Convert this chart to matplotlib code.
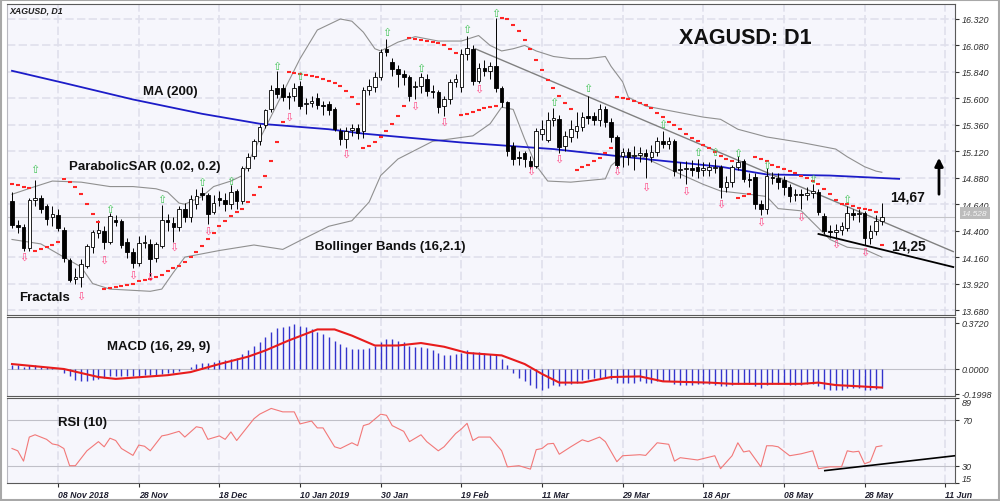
import matplotlib
matplotlib.use("Agg")
import matplotlib.pyplot as plt

plt.rcParams['font.family'] = ['Liberation Sans', 'DejaVu Sans']

# ---------------- data ----------------
opens = [14.67,14.45,14.43,14.24,14.68,14.70,14.62,14.52,14.54,14.41,
         14.13,13.96,13.98,14.08,14.25,14.38,14.40,14.30,14.50,14.49,
         14.30,14.21,14.11,14.29,14.28,14.15,14.26,14.50,14.47,14.43,
         14.60,14.52,14.64,14.74,14.72,14.57,14.70,14.68,14.64,14.76,
         14.67,14.97,15.08,15.21,15.36,15.50,15.69,15.69,15.62,15.62,
         15.71,15.55,15.56,15.60,15.54,15.55,15.50,15.30,15.23,15.31,
         15.33,15.30,15.68,15.70,15.79,16.05,15.93,15.87,15.82,15.79,
         15.70,15.71,15.78,15.67,15.66,15.53,15.59,15.75,15.70,16.00,
         16.05,15.76,15.88,15.85,15.89,15.69,15.57,15.17,15.07,15.10,
         15.03,14.99,15.28,15.22,15.40,15.41,15.17,15.25,15.30,15.34,
         15.44,15.44,15.40,15.50,15.39,15.25,15.08,15.11,15.08,15.09,
         15.10,15.07,15.11,15.21,15.19,15.21,14.95,14.96,14.97,14.98,
         14.95,14.95,14.97,14.98,14.80,14.84,14.98,15.03,14.87,14.89,
         14.64,14.60,14.89,14.88,14.86,14.80,14.72,14.73,14.72,14.74,
         14.75,14.53,14.40,14.39,14.41,14.42,14.56,14.55,14.56,14.33,
         14.40,14.49]
highs = [14.75,14.50,14.46,14.70,14.86,14.72,14.64,14.62,14.60,14.43,
         14.15,14.06,14.14,14.28,14.41,14.50,14.44,14.56,14.54,14.51,
         14.33,14.24,14.35,14.36,14.32,14.30,14.63,14.55,14.52,14.62,
         14.65,14.72,14.78,14.80,14.74,14.72,14.76,14.74,14.81,14.78,
         14.99,15.10,15.23,15.37,15.50,15.72,15.85,15.73,15.66,15.74,
         15.76,15.60,15.62,15.65,15.58,15.58,15.52,15.33,15.34,15.37,
         15.37,15.70,15.78,15.84,16.05,16.14,15.97,15.90,15.86,15.81,
         15.76,15.83,15.82,15.72,15.68,15.62,15.78,15.82,16.05,16.17,
         16.08,15.92,15.95,15.93,16.33,15.71,15.58,15.20,15.12,15.12,
         15.08,15.33,15.40,15.48,15.51,15.45,15.30,15.40,15.48,15.48,
         15.62,15.48,15.55,15.53,15.42,15.27,15.15,15.15,15.17,15.16,
         15.14,15.18,15.25,15.30,15.25,15.23,15.02,15.03,15.04,15.05,
         15.02,15.02,15.05,15.00,14.90,15.00,15.08,15.05,14.92,14.92,
         14.68,14.97,14.93,14.92,14.90,14.82,14.78,14.78,14.80,14.82,
         14.78,14.56,14.45,14.46,14.48,14.62,14.60,14.60,14.58,14.45,
         14.54,14.65]
lows = [14.42,14.38,14.22,14.22,14.62,14.56,14.45,14.44,14.40,14.12,
        13.93,13.92,13.89,14.06,14.20,14.33,14.23,14.28,14.44,14.24,
        14.15,14.06,14.08,14.24,13.99,14.12,14.24,14.40,14.30,14.40,
        14.48,14.48,14.60,14.68,14.46,14.55,14.62,14.58,14.60,14.60,
        14.64,14.94,15.05,15.18,15.33,15.48,15.60,15.58,15.50,15.58,
        15.50,15.46,15.52,15.50,15.45,15.45,15.30,15.18,15.15,15.26,
        15.23,15.24,15.63,15.66,15.77,15.98,15.80,15.70,15.72,15.58,
        15.59,15.65,15.62,15.60,15.47,15.44,15.55,15.70,15.66,15.95,
        15.72,15.74,15.80,15.78,15.66,15.52,15.08,15.00,15.00,14.98,
        14.96,14.97,15.22,15.20,15.35,15.10,15.12,15.20,15.24,15.30,
        15.37,15.36,15.35,15.34,15.20,14.97,14.98,15.00,14.95,15.02,
        14.88,15.02,15.08,15.15,15.14,14.90,14.88,14.82,14.90,14.88,
        14.90,14.90,14.92,14.70,14.75,14.80,14.95,14.84,14.80,14.60,
        14.54,14.55,14.82,14.78,14.72,14.66,14.67,14.60,14.68,14.70,
        14.54,14.37,14.33,14.32,14.36,14.40,14.50,14.48,14.27,14.28,
        14.36,14.45]
closes = [14.45,14.43,14.24,14.68,14.70,14.60,14.51,14.55,14.42,14.15,
          13.95,13.98,14.10,14.26,14.39,14.41,14.30,14.53,14.48,14.27,
          14.21,14.11,14.29,14.30,14.14,14.28,14.50,14.48,14.43,14.60,
          14.52,14.69,14.71,14.72,14.55,14.65,14.68,14.64,14.75,14.67,
          14.97,15.07,15.21,15.34,15.49,15.68,15.64,15.61,15.61,15.69,
          15.53,15.55,15.58,15.54,15.53,15.49,15.32,15.23,15.30,15.33,
          15.29,15.68,15.71,15.79,16.02,16.02,15.87,15.82,15.79,15.62,
          15.71,15.79,15.67,15.66,15.52,15.59,15.75,15.78,16.00,16.06,
          15.76,15.88,15.85,15.89,15.69,15.57,15.12,15.05,15.06,15.05,
          14.99,15.30,15.32,15.40,15.42,15.16,15.26,15.32,15.35,15.43,
          15.42,15.40,15.50,15.39,15.25,15.00,15.11,15.07,15.09,15.10,
          15.08,15.11,15.21,15.19,15.21,14.94,14.96,14.97,14.95,14.94,
          14.97,14.98,14.98,14.80,14.84,14.98,15.02,14.87,14.86,14.64,
          14.60,14.90,14.88,14.84,14.80,14.71,14.73,14.72,14.74,14.76,
          14.57,14.40,14.39,14.41,14.44,14.56,14.54,14.56,14.33,14.40,
          14.49,14.52]

sar = [14.82,14.81,14.80,14.79,14.22,14.23,14.25,14.27,14.30,14.87,
       14.84,14.80,14.73,14.64,14.55,14.48,13.87,13.88,13.89,13.90,
       13.91,13.92,13.94,13.95,13.96,13.98,14.00,14.03,14.06,14.08,
       14.12,14.16,14.21,14.26,14.32,14.38,14.44,14.49,14.53,14.57,
       14.60,14.66,14.72,14.80,14.90,15.03,15.20,15.39,15.84,15.83,
       15.82,15.81,15.80,15.79,15.78,15.76,15.74,15.71,15.67,15.61,
       15.55,15.15,15.17,15.20,15.25,15.30,15.37,15.44,15.53,16.15,
       16.14,16.13,16.12,16.11,16.10,16.08,16.05,16.01,15.45,15.46,
       15.48,15.49,15.51,15.52,15.53,16.33,16.32,16.27,16.21,16.13,
       16.05,15.95,15.86,15.77,15.69,15.62,15.56,15.50,14.95,14.98,
       15.00,15.03,15.06,15.10,15.15,15.61,15.60,15.59,15.58,15.56,
       15.54,15.51,15.47,15.43,15.39,15.36,15.32,15.28,15.24,15.21,
       15.18,15.15,15.11,15.08,15.05,15.03,14.70,14.71,14.73,15.07,
       15.05,15.03,15.00,14.98,14.96,14.94,14.92,14.90,14.88,14.85,
       14.82,14.78,14.73,14.68,14.64,14.64,14.62,14.61,14.60,14.59,
       14.57,14.27]

frac_up_idx = [4, 17, 26, 33, 38, 46, 50, 65, 71, 79, 84, 94, 100, 113, 119, 122, 126, 131, 139, 145]
frac_up_val = [14.96, 14.60, 14.69, 14.84, 14.85, 15.89, 15.80, 16.20, 15.88, 16.23, 16.37,
               15.57, 15.69, 15.37, 15.11, 15.11, 15.10, 15.00, 14.87, 14.69]
frac_dn_idx = [2, 12, 16, 21, 24, 28, 34, 48, 58, 70, 75, 81, 90, 95, 105, 110, 117, 123, 130, 137, 143, 148]
frac_dn_val = [14.16, 13.81, 14.14, 14.00, 13.98, 14.25, 14.40, 15.43, 15.10, 15.53, 15.39, 15.69,
               14.94, 15.05, 14.94, 14.80, 14.76, 14.64, 14.48, 14.53, 14.28, 14.21]

ma_idx = [0, 9, 21, 33, 43, 55, 61, 78, 94, 108, 123, 131, 142, 154]
ma_val = [15.85, 15.74, 15.59, 15.46, 15.37, 15.32, 15.28, 15.20, 15.14, 15.06, 14.98, 14.91, 14.90, 14.87]

bb_up_idx = [0, 4, 7, 12, 17, 21, 25, 27, 29, 30, 33, 35, 38, 40, 41, 45, 50, 53, 57, 59, 61, 63, 64,
             67, 70, 74, 78, 81, 83, 85, 87, 89, 91, 94, 97, 100, 103, 104, 106, 107, 110, 114, 120,
             123, 126, 131, 137, 143, 145, 148, 150, 151]
bb_up_val = [14.73, 14.80, 14.85, 14.84, 14.80, 14.80, 14.78, 14.75, 14.65, 14.64, 14.71, 14.80, 14.85,
             14.90, 15.02, 15.44, 15.96, 16.22, 16.32, 16.30, 16.20, 16.05, 16.03, 16.11, 16.16, 16.12,
             16.12, 16.17, 16.08, 16.03, 16.05, 16.08, 16.03, 15.98, 15.96, 15.96, 15.98, 15.89, 15.75,
             15.61, 15.53, 15.49, 15.43, 15.41, 15.32, 15.25, 15.20, 15.14, 15.07, 14.98, 14.94, 14.93]
bb_lo_idx = [0, 5, 8, 12, 14, 17, 24, 26, 28, 30, 36, 42, 47, 50, 55, 59, 62, 64, 67, 73, 80, 83, 85,
             87, 89, 91, 93, 97, 103, 104, 106, 109, 114, 120, 123, 128, 131, 133, 137, 142, 145, 148, 151]
bb_lo_val = [14.32, 14.28, 14.19, 14.07, 13.92, 13.87, 13.85, 13.87, 14.02, 14.16, 14.22, 14.27, 14.23,
             14.31, 14.44, 14.49, 14.66, 14.90, 15.05, 15.21, 15.26, 15.37, 15.52, 15.50, 15.23, 14.99,
             14.85, 14.84, 14.87, 14.99, 15.08, 15.08, 14.96, 14.82, 14.76, 14.73, 14.71, 14.60, 14.58,
             14.32, 14.25, 14.23, 14.16]

res_line_idx = [80.4, 163.4]
res_line_val = [16.05, 14.21]
sup_line_idx = [140, 163.4]
sup_line_val = [14.37, 14.07]

macd_hist = [0.03,0.03,0.02,0.03,0.03,0.02,0.02,0.01,0.00,-0.03,
             -0.06,-0.09,-0.10,-0.10,-0.09,-0.08,-0.07,-0.06,-0.06,-0.06,
             -0.06,-0.06,-0.06,-0.05,-0.05,-0.05,-0.04,-0.03,-0.03,-0.02,
             0.00,0.02,0.04,0.05,0.05,0.06,0.07,0.07,0.08,0.09,
             0.12,0.15,0.19,0.22,0.26,0.30,0.33,0.34,0.35,0.36,
             0.35,0.34,0.32,0.30,0.28,0.26,0.23,0.20,0.18,0.16,
             0.16,0.16,0.17,0.19,0.22,0.24,0.24,0.23,0.22,0.19,
             0.18,0.18,0.17,0.15,0.13,0.11,0.11,0.12,0.13,0.15,
             0.14,0.14,0.13,0.12,0.11,0.08,0.03,-0.03,-0.07,-0.10,
             -0.13,-0.15,-0.17,-0.15,-0.13,-0.14,-0.13,-0.12,-0.11,-0.09,
             -0.08,-0.07,-0.07,-0.07,-0.08,-0.11,-0.11,-0.11,-0.11,-0.10,
             -0.11,-0.11,-0.10,-0.10,-0.10,-0.12,-0.13,-0.13,-0.13,-0.12,
             -0.12,-0.12,-0.13,-0.14,-0.14,-0.13,-0.12,-0.12,-0.12,-0.14,
             -0.15,-0.13,-0.12,-0.12,-0.12,-0.13,-0.13,-0.13,-0.12,-0.12,
             -0.14,-0.16,-0.17,-0.17,-0.17,-0.15,-0.15,-0.15,-0.17,-0.17,
             -0.16,-0.15]
sig_idx = [0, 9, 15, 18, 27, 31, 36, 41, 44, 48, 53, 56, 59, 63, 67, 71, 75, 79, 85, 89, 92, 95,
           99, 104, 109, 113, 121, 125, 137, 140, 143, 147, 151]
sig_val = [0.04, 0.0, -0.065, -0.08, -0.05, -0.025, 0.04, 0.10, 0.15, 0.23, 0.32, 0.32, 0.27, 0.19,
           0.19, 0.21, 0.18, 0.13, 0.11, 0.04, -0.04, -0.11, -0.11, -0.065, -0.06, -0.10, -0.11,
           -0.12, -0.12, -0.11, -0.13, -0.14, -0.15]

rsi_idx = [0, 1, 2, 3, 4, 6, 7, 8, 9, 10, 11, 13, 15, 16, 17, 18, 19, 21, 22, 23, 24, 26, 27, 29, 30,
           32, 33, 34, 36, 37, 38, 39, 42, 43, 45, 47, 49, 50, 52, 53, 54, 56, 57, 59, 60, 61, 62, 64,
           65, 66, 68, 69, 71, 72, 74, 75, 77, 78, 79, 80, 81, 83, 85, 86, 88, 90, 91, 92, 93, 94, 95,
           97, 99, 100, 102, 103, 105, 106, 109, 110, 112, 114, 115, 116, 119, 122, 123, 125, 126, 127,
           128, 130, 131, 132, 133, 135, 137, 139, 140, 142, 144, 145, 146, 147, 148, 149, 150, 151]
rsi_val = [45, 43, 34, 55, 57, 53, 49, 48, 45, 30, 30, 43, 51, 46.5, 54, 52, 45, 39, 48, 47, 43, 56, 57,
           60, 55, 64, 63, 53, 56, 53, 59.5, 52, 71, 75, 80, 77, 77, 66.5, 69, 63, 63, 46.5, 45, 50,
           47.5, 65, 66.5, 75, 74, 65, 60, 51, 57, 51, 43, 46.5, 58, 62, 67, 52, 55, 55, 43, 29, 30,
           27, 44, 45, 49, 49.5, 40, 46.5, 52.6, 51, 55, 51, 33.5, 38.7, 39.6, 39, 50, 48.7, 34, 37,
           35, 38.7, 27.4, 38.7, 50, 42, 43, 29, 47.4, 47.4, 46.5, 38.7, 40.4, 43, 27.4, 29, 29, 43,
           42, 42.6, 31.7, 33.5, 46.5, 47.4]
rsi_line_idx = [141.1, 163.7]
rsi_line_val = [25.7, 38.7]

price_ticks = [13.68, 13.92, 14.16, 14.40, 14.64, 14.88, 15.12, 15.36, 15.60, 15.84, 16.08, 16.32]
date_idx = [8, 22, 36, 50, 64, 78, 92, 106, 120, 134, 148, 162]
date_labels = ["08 Nov 2018", "28 Nov", "18 Dec", "10 Jan 2019", "30 Jan", "19 Feb",
               "11 Mar", "29 Mar", "18 Apr", "08 May", "28 May", "11 Jun"]

# ---------------- layout ----------------
W, H = 1000, 502
fig = plt.figure(figsize=(10, 5.02), dpi=100, facecolor='white')

def fx(x):
    return x / W

def fy(y):
    return 1 - y / H

L, R = 7, 955
ax = fig.add_axes([fx(L), fy(316), (R - L) / W, (316 - 5) / H])
axm = fig.add_axes([fx(L), fy(397), (R - L) / W, (397 - 318) / H], sharex=ax)
axr = fig.add_axes([fx(L), fy(484), (R - L) / W, (484 - 399) / H], sharex=ax)

bg = '#f6f6fc'
grid_c = '#e0e0ec'
for a in (ax, axm, axr):
    a.set_facecolor(bg)
    for s in a.spines.values():
        s.set_color('#5a5a5a')
        s.set_linewidth(0.8)
    a.spines['left'].set_color('#b8b8c0')
    for g in date_idx:
        a.axvline(g, color=grid_c, lw=1.2, ls=(0, (5, 2)), zorder=0)
    a.yaxis.tick_right()
    a.tick_params(axis='y', labelsize=6.5, length=3, pad=2, colors='#303030')
    a.tick_params(axis='x', length=3, colors='#303030')

ax.set_xlim(-0.87, 163.7)
ax.set_ylim(13.635, 16.456)
axm.set_ylim(-0.2184, 0.4205)
axr.set_ylim(14.9, 89.1)

# ---------------- main panel ----------------
for p in price_ticks:
    ax.axhline(p, color=grid_c, lw=1.2, ls=(0, (5, 2)), zorder=0)

idx = list(range(len(closes)))
ax.axhline(closes[-1], color='#c4c4c8', lw=0.8, zorder=1)

ax.plot(bb_up_idx, bb_up_val, color='#909090', lw=0.8, zorder=2)
ax.plot(bb_lo_idx, bb_lo_val, color='#909090', lw=0.8, zorder=2)
ax.plot(ma_idx, ma_val, color='#1c1cc8', lw=1.3, zorder=3)
ax.plot(res_line_idx, res_line_val, color='#808080', lw=1.0, zorder=3)
ax.plot(sup_line_idx, sup_line_val, color='#000000', lw=1.3, zorder=3)

ax.vlines(idx, lows, highs, color='black', lw=0.7, zorder=4)
bottoms = [min(o, c) for o, c in zip(opens, closes)]
heights = [max(abs(c - o), 0.006) for o, c in zip(opens, closes)]
colors = ['white' if c >= o else 'black' for o, c in zip(opens, closes)]
ax.bar(idx, heights, bottom=bottoms, width=0.62, color=colors, edgecolor='black',
       linewidth=0.6, zorder=5)

ax.scatter(idx, sar, marker='_', s=11, c='#ff2626', linewidths=1.5, zorder=6)

for i, v in zip(frac_up_idx, frac_up_val):
    ax.text(i, v, '\u21e7', color='#44c458', fontsize=8, ha='center', va='center',
            family='DejaVu Sans', zorder=7)
for i, v in zip(frac_dn_idx, frac_dn_val):
    ax.text(i, v, '\u21e9', color='#ff4a86', fontsize=8, ha='center', va='center',
            family='DejaVu Sans', zorder=7)

ax.set_yticks(price_ticks)
ax.set_yticklabels(['%.3f' % p for p in price_ticks])
for t in ax.get_yticklabels():
    t.set_fontstyle('italic')
ax.tick_params(axis='x', labelbottom=False, length=0)

# ---------------- MACD ----------------
axm.axhline(0, color='#c0c0c8', lw=0.8, zorder=1)
axm.vlines(idx, 0, macd_hist, color='#3434cc', lw=1.0, zorder=2)
axm.plot(sig_idx, sig_val, color='#e81c1c', lw=1.5, zorder=3)
axm.set_yticks([0.372, 0.0, -0.1998])
axm.set_yticklabels(['0.3720', '0.0000', '-0.1998'])
for t in axm.get_yticklabels():
    t.set_fontstyle('italic')
axm.tick_params(axis='x', labelbottom=False, length=0)

# ---------------- RSI ----------------
axr.axhline(70, color='#c0c0c8', lw=0.8, zorder=1)
axr.axhline(30, color='#c0c0c8', lw=0.8, zorder=1)
axr.plot(rsi_idx, rsi_val, color='#f27878', lw=0.8, zorder=2)
axr.plot(rsi_line_idx, rsi_line_val, color='black', lw=1.2, zorder=3)
axr.set_yticks([89, 70, 30, 15])
axr.set_yticklabels(['89', '70', '30', '15'])
ylab = axr.get_yticklabels()
for t in ylab:
    t.set_fontstyle('italic')
ylab[0].set_va('top')
ylab[3].set_va('bottom')

axr.set_xticks(date_idx)
axr.set_xticklabels(date_labels, fontsize=6.3, fontstyle='italic', fontweight='bold',
                    color='#202030', ha='left')
axr.tick_params(axis='x', pad=2)

# ---------------- texts ----------------
def lab(x, y, s, size=9.5, **kw):
    fig.text(fx(x), fy(y), s, fontsize=size, fontweight='bold', color='#111111',
             ha='center', va='center', **kw)

lab(745, 38, 'XAGUSD: D1', size=15.5)
lab(170, 92, 'MA (200)')
lab(145, 167, 'ParabolicSAR (0.02, 0.2)')
lab(390, 247, 'Bollinger Bands (16,2.1)')
lab(44, 298, 'Fractals')
lab(159, 347, 'MACD (16, 29, 9)')
lab(82, 423, 'RSI (10)')
lab(908, 198, '14,67', size=10)
lab(908, 247, '14,25', size=10)

fig.text(fx(9), fy(11), 'XAGUSD, D1', fontsize=6.3, fontstyle='italic', fontweight='bold',
         color='#202020', ha='left', va='center')
fig.text(fx(975), fy(214), '14.528', fontsize=6, fontstyle='italic', color='#f4f4f4',
         ha='center', va='center',
         bbox=dict(boxstyle='square,pad=0.25', fc='#bcbcbc', ec='none'))

fig.patches.append(matplotlib.patches.FancyArrowPatch(
    (fx(939), fy(198)), (fx(939), fy(156)), transform=fig.transFigure,
    arrowstyle='-|>', mutation_scale=12, color='black', lw=2))

fig.patches.append(matplotlib.patches.Rectangle(
    (0.001, 0.002), 0.998, 0.996, transform=fig.transFigure, fill=False,
    edgecolor='#a8a8a8', lw=1.5))

fig.savefig('out.png', dpi=100, facecolor='white')
